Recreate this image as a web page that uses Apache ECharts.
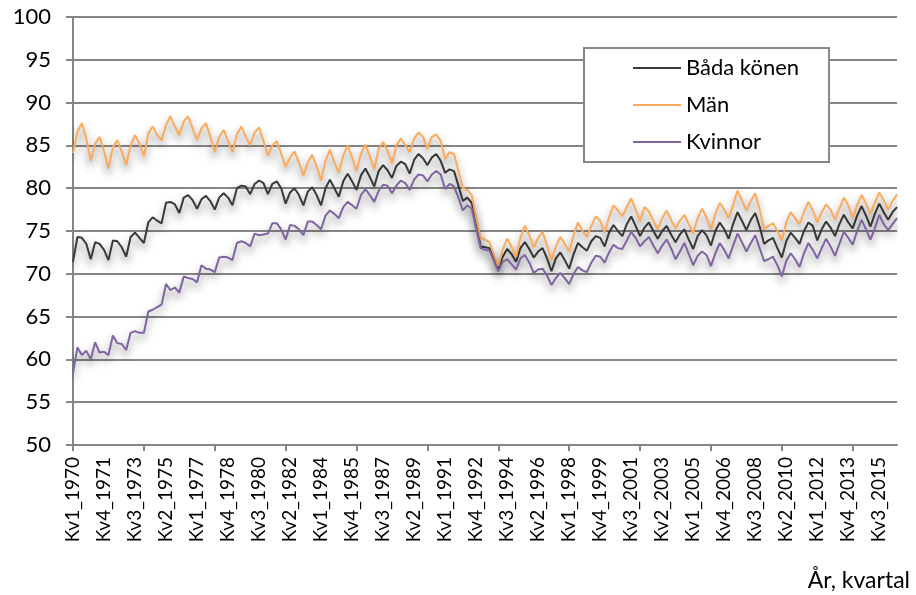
<!DOCTYPE html>
<html>
<head>
<meta charset="utf-8">
<script src="https://cdn.jsdelivr.net/npm/echarts@6/dist/echarts.min.js"></script>
<style>
  html, body { margin: 0; background: #fff; }
  #chart { width: 916px; height: 595px; }
</style>
</head>
<body>
<div id="chart"></div>
<script>
// quarters Kv1_1970 .. Kv3_2016
const firstYear = 1970
const quarterCount = 187

const seriesNames = ['Båda könen', 'Män', 'Kvinnor']

// one row per year, Kv1..Kv4
const bada = [
  71.4, 74.3, 74.2, 73.5,
  71.7, 73.7, 73.5, 72.8,
  71.6, 73.9, 73.8, 73.1,
  72.0, 74.3, 74.8, 74.2,
  73.6, 76.0, 76.6, 76.2,
  75.9, 78.3, 78.4, 78.1,
  77.1, 78.9, 79.2, 78.6,
  77.6, 78.7, 79.1, 78.5,
  77.5, 78.9, 79.4, 78.9,
  78.0, 80.0, 80.3, 80.2,
  79.3, 80.5, 80.9, 80.6,
  79.3, 80.5, 80.8, 80.0,
  78.2, 79.5, 80.0, 79.2,
  78.0, 79.6, 80.1, 79.2,
  78.0, 80.0, 81.0, 80.0,
  79.0, 80.8, 81.7, 80.8,
  79.8, 81.5, 82.3, 81.3,
  80.2, 82.0, 82.7, 82.1,
  81.2, 82.6, 83.1, 82.8,
  81.7, 83.3, 84.0, 83.5,
  82.7, 83.6, 84.0, 83.2,
  81.8, 82.2, 82.0, 80.3,
  78.5, 78.9, 78.3, 76.0,
  73.2, 73.1, 73.0, 71.8,
  70.6, 72.0, 72.9, 72.3,
  71.4, 73.0, 73.7, 72.9,
  71.9, 72.6, 73.0, 71.8,
  70.3, 71.8, 72.5, 71.6,
  70.6, 72.3, 73.6, 73.1,
  72.7, 73.8, 74.4, 74.2,
  73.2, 74.8, 75.7, 75.0,
  74.4, 75.8, 76.7, 75.6,
  74.4, 75.4, 76.0, 75.0,
  74.1, 75.0, 75.6, 74.6,
  73.7, 74.6, 75.2, 74.0,
  72.9, 74.4, 75.1, 74.5,
  73.3, 75.0, 76.0, 75.2,
  74.1, 75.8, 77.2, 76.2,
  75.1, 76.3, 77.1, 75.5,
  73.5, 73.9, 74.2, 73.0,
  71.9, 73.8, 74.8, 74.2,
  73.5, 75.0, 76.0, 75.6,
  73.9, 75.2, 76.1, 75.4,
  74.4, 75.8, 76.9, 76.0,
  75.3, 76.8, 77.9, 76.8,
  75.5, 77.0, 78.2, 77.2,
  76.3, 77.2, 77.8
]

const man = [
  84.1, 86.6, 87.6, 85.8,
  83.2, 85.2, 86.0, 84.3,
  82.3, 84.8, 85.6, 84.3,
  82.7, 85.0, 86.2, 85.2,
  83.7, 86.4, 87.2, 86.2,
  85.6, 87.4, 88.4, 87.2,
  86.2, 87.8, 88.4, 87.0,
  85.6, 87.0, 87.6, 86.0,
  84.2, 86.0, 86.8, 85.5,
  84.2, 86.3, 87.2, 86.0,
  85.0, 86.5, 87.1, 85.5,
  83.8, 85.0, 85.5, 84.0,
  82.5, 83.6, 84.3, 83.0,
  81.5, 83.0, 83.9, 82.5,
  80.9, 83.2, 84.5, 83.0,
  81.8, 83.8, 85.0, 83.6,
  82.0, 84.0, 85.1, 83.7,
  82.2, 84.6, 85.4, 84.4,
  82.9, 85.0, 85.8, 85.0,
  84.2, 85.8, 86.5, 86.0,
  84.6, 86.0, 86.3, 85.5,
  83.4, 84.2, 84.0, 82.0,
  80.0, 79.8, 79.2, 76.5,
  74.2, 74.0, 73.7, 72.2,
  70.9, 72.8, 74.1, 73.2,
  72.0, 74.2, 75.6, 74.5,
  73.1, 74.2, 74.9, 73.3,
  71.6, 73.2, 74.3, 73.5,
  72.6, 74.5, 76.0, 75.0,
  74.3, 75.6, 76.7, 76.2,
  74.8, 76.6, 78.0, 77.4,
  76.7, 77.8, 78.8, 77.5,
  76.1, 77.8, 77.3, 76.2,
  75.2, 76.5, 77.4, 76.3,
  75.3, 76.2, 76.9, 75.8,
  74.7, 76.5, 77.6, 76.6,
  75.2, 77.0, 78.3, 77.5,
  76.5, 78.0, 79.7, 78.6,
  77.4, 78.5, 79.4, 77.5,
  75.2, 75.6, 75.9, 75.0,
  73.9, 76.0, 77.2, 76.5,
  75.8, 77.2, 78.4, 77.4,
  76.0, 77.2, 78.1, 77.5,
  76.3, 77.6, 78.9, 78.0,
  76.5, 78.0, 79.2, 78.2,
  77.0, 78.3, 79.5, 78.6,
  77.5, 78.5, 79.3
]

const kvinnor = [
  58.4, 61.4, 60.5, 61.0,
  60.0, 62.0, 60.8, 60.9,
  60.5, 62.8, 61.9, 61.8,
  61.1, 63.1, 63.3, 63.1,
  63.1, 65.6, 65.8, 66.1,
  66.4, 68.8, 68.1, 68.4,
  67.8, 69.7, 69.5, 69.4,
  69.0, 71.0, 70.6, 70.5,
  70.2, 71.9, 72.0, 71.9,
  71.6, 73.6, 73.8, 73.6,
  73.2, 74.7, 74.5, 74.6,
  74.7, 75.9, 75.9, 75.2,
  74.0, 75.7, 75.6, 75.2,
  74.5, 76.1, 76.1, 75.7,
  75.2, 76.8, 77.4, 77.0,
  76.5, 77.8, 78.4, 78.0,
  77.6, 79.2, 79.9, 79.2,
  78.4, 79.7, 80.4, 80.3,
  79.4, 80.3, 80.9, 80.6,
  79.8, 81.0, 81.6, 81.5,
  80.8, 81.6, 82.0, 81.6,
  79.9, 80.5, 80.2, 78.9,
  77.4, 78.0, 77.6, 75.3,
  73.0, 72.8, 72.7, 71.5,
  70.3, 71.4, 71.7, 71.1,
  70.5, 71.8, 72.2, 71.3,
  70.1, 70.5, 70.6, 69.8,
  68.7, 69.5, 70.1, 69.5,
  68.8, 70.0, 70.8, 70.4,
  70.2, 71.3, 72.1, 72.0,
  71.3, 72.5, 73.4, 73.0,
  72.9, 73.9, 74.9, 74.2,
  73.2, 73.8, 74.3, 73.3,
  72.4, 73.3, 74.0, 73.0,
  71.7, 72.6, 73.6, 72.3,
  71.0, 72.1, 72.6, 72.2,
  70.9, 72.4, 73.6, 72.8,
  71.8, 73.3, 74.7, 73.7,
  72.6, 73.6, 74.5, 73.0,
  71.5, 71.7, 72.0, 71.0,
  69.7, 71.5, 72.4, 71.7,
  70.8, 72.4, 73.6, 72.8,
  71.8, 73.0, 74.1, 73.2,
  72.1, 73.5, 74.9, 74.2,
  73.4, 75.0, 76.3, 75.2,
  74.0, 75.3, 76.9, 75.8,
  75.1, 75.8, 76.5
]

const categories = []
for (let i = 0; i < quarterCount; i++) {
  categories.push('Kv' + (i % 4 + 1) + '_' + (firstYear + Math.floor(i / 4)))
}

const gray = '#868686'
const font = 'Lato'

let myChart = echarts.init(document.getElementById('chart'))

const lineSeries = (name, data, color) => ({
  name: name,
  type: 'line',
  data: data,
  symbol: 'none',
  color: color,
  lineStyle: {
    width: 2,
    color: color,
    shadowColor: 'rgba(0,0,0,0.5)',
    shadowBlur: 8,
    shadowOffsetY: 5
  }
})

let option = {
  animation: false,
  backgroundColor: '#fff',
  grid: { left: 73, right: 19, top: 17, bottom: 150 },
  legend: {
    orient: 'vertical',
    left: 584,
    top: 48,
    icon: 'rect',
    itemWidth: 48,
    itemHeight: 2,
    itemGap: 11,
    padding: [7, 30, 7, 49],
    borderColor: gray,
    borderWidth: 2,
    backgroundColor: '#fff',
    textStyle: { fontFamily: font, fontSize: 22, color: '#000', lineHeight: 26 },
    data: seriesNames
  },
  xAxis: {
    type: 'category',
    data: categories,
    boundaryGap: false,
    axisLine: { lineStyle: { color: gray, width: 2 } },
    axisTick: { interval: 15, length: 6, lineStyle: { color: gray, width: 2 } },
    axisLabel: { interval: 6, rotate: 90, margin: 12, fontFamily: font, fontSize: 19, color: '#000' },
    splitLine: { show: false }
  },
  yAxis: {
    type: 'value',
    min: 50,
    max: 100,
    interval: 5,
    axisLine: { show: true, lineStyle: { color: gray, width: 2 } },
    axisTick: { show: true, length: 7, lineStyle: { color: gray, width: 2 } },
    axisLabel: { margin: 22, fontFamily: font, fontSize: 22, color: '#000' },
    splitLine: { lineStyle: { color: gray, width: 2 } }
  },
  graphic: [{
    type: 'text',
    right: 6,
    top: 569,
    style: { text: 'År, kvartal', font: '23px Lato', fill: '#000' }
  }],
  series: [
    lineSeries(seriesNames[0], bada, '#3a3a3a'),
    lineSeries(seriesNames[1], man, '#fbab5c'),
    lineSeries(seriesNames[2], kvinnor, '#8064a2')
  ]
}

option && myChart.setOption(option)
</script>
</body>
</html>
